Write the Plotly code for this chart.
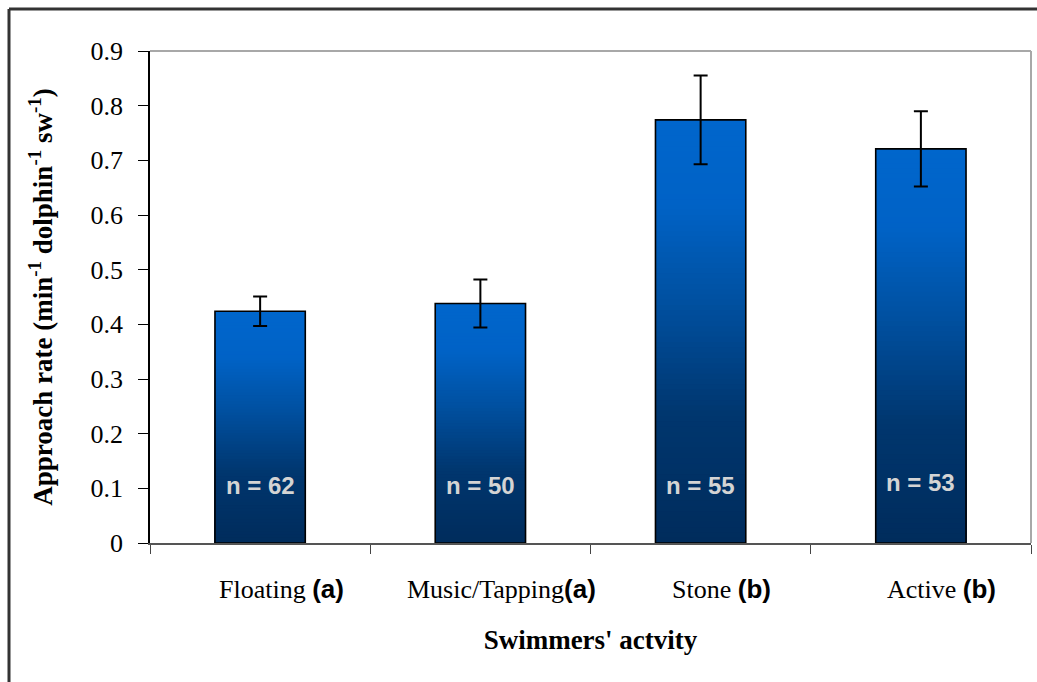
import plotly.graph_objects as go

# Approach rate per swimmer activity (mean ± SE), with sample sizes
categories = ["Floating", "Music/Tapping", "Stone", "Active"]
group_letters = ["(a)", "(a)", "(b)", "(b)"]
label_gaps = [" ", "", " ", " "]
means = [0.424, 0.438, 0.774, 0.721]
errors = [0.027, 0.044, 0.081, 0.069]
n_counts = [62, 50, 55, 53]
n_label_y = [0.105, 0.105, 0.105, 0.11]
y_ticks = [0, 0.1, 0.2, 0.3, 0.4, 0.5, 0.6, 0.7, 0.8, 0.9]

SERIF = "Liberation Serif, Times New Roman, serif"
SANS = "Liberation Sans, Arial, sans-serif"

# vertical gradient for the bar fill (bottom -> top)
grad_stops = [(0.0, (0, 44, 92)), (0.3, (0, 54, 110)), (0.57, (0, 80, 160)),
              (0.8, (0, 98, 198)), (1.0, (0, 102, 204))]


def grad_color(t):
    for (t0, c0), (t1, c1) in zip(grad_stops[:-1], grad_stops[1:]):
        if t <= t1:
            f = (t - t0) / (t1 - t0)
            c = [round(a + (b - a) * f) for a, b in zip(c0, c1)]
            return "rgb(%d,%d,%d)" % tuple(c)
    return "rgb(%d,%d,%d)" % grad_stops[-1][1]


# Gradient: each bar is layered from tallest to shortest band, all from zero
N = 80
gx, gy, gc = [], [], []
for k in range(N):
    frac = (N - k) / N
    for c, m in zip(categories, means):
        gx.append(c)
        gy.append(m * frac)
        gc.append(grad_color(frac - 0.5 / N))

fig = go.Figure()
fig.add_trace(go.Bar(
    x=gx, y=gy, width=0.41,
    marker=dict(color=gc, line=dict(width=0)),
    hoverinfo="skip", showlegend=False,
))
fig.add_trace(go.Bar(
    x=categories, y=means, width=0.41,
    marker=dict(color="rgba(0,0,0,0)", line=dict(color="black", width=1.6)),
    error_y=dict(type="data", array=errors, visible=True,
                 color="black", thickness=2, width=7),
    showlegend=False,
))

for c, n, yy in zip(categories, n_counts, n_label_y):
    fig.add_annotation(
        x=c, y=yy, text=f"n = {n}", showarrow=False,
        font=dict(family=SANS, size=24, color="#D4D4D4", weight="bold"),
        yanchor="middle",
    )

# category labels with significance-group letters, set slightly right of centre
for c, g, l in zip(categories, label_gaps, group_letters):
    fig.add_annotation(
        x=c, y=0, yref="y", yanchor="middle", yshift=-46, xshift=21,
        text=f"{c}{g}<span style=\"font-family:Liberation Sans, Arial;font-weight:bold\">{l}</span>",
        showarrow=False,
        font=dict(family=SERIF, size=26, color="black"),
    )

# plot-area frame (top / right) and outer border
fig.add_shape(type="line", xref="paper", yref="paper", x0=0, x1=1, y0=1, y1=1,
              line=dict(color="#A8A8A8", width=2))
fig.add_shape(type="line", xref="paper", yref="paper", x0=1, x1=1, y0=0, y1=1,
              line=dict(color="#A8A8A8", width=2))
W, H, L, R, T, B = 1037, 682, 150, 6, 51, 139
pw, ph = W - L - R, H - T - B
fig.add_shape(type="line", xref="paper", yref="paper",
              x0=(9 - L) / pw, x1=(9 - L) / pw, y0=1 + (T - 9) / ph, y1=-0.5,
              line=dict(color="#333333", width=3))
fig.add_shape(type="line", xref="paper", yref="paper",
              x0=(9 - L) / pw, x1=1.2, y0=1 + (T - 9) / ph, y1=1 + (T - 9) / ph,
              line=dict(color="#333333", width=3))

fig.update_layout(
    width=W, height=H,
    margin=dict(l=L, r=R, t=T, b=B, autoexpand=False),
    paper_bgcolor="white", plot_bgcolor="white",
    barmode="overlay",
    font=dict(family=SERIF, color="black"),
    xaxis=dict(
        type="category", tickson="boundaries",
        showticklabels=False,
        ticks="outside", ticklen=9, tickcolor="#444", tickwidth=1,
        showline=True, linecolor="#555", linewidth=1.5,
        showgrid=False, zeroline=False,
        title=dict(text="<b>Swimmers' actvity</b>",
                   font=dict(family=SERIF, size=27, color="black"), standoff=86),
    ),
    yaxis=dict(
        range=[0, 0.9], tickvals=y_ticks,
        ticktext=[("%g" % v) for v in y_ticks],
        ticks="outside", ticklen=10, tickcolor="black", tickwidth=1,
        ticklabelstandoff=10,
        showline=True, linecolor="black", linewidth=1.5,
        showgrid=False, zeroline=False,
        tickfont=dict(family=SERIF, size=26, color="black"),
        title=dict(
            text="<b>Approach rate (min<sup>-1</sup> dolphin<sup>-1</sup> sw<sup>-1</sup>)</b>",
            font=dict(family=SERIF, size=27, color="black"), standoff=30),
    ),
)

fig.write_html("out.html")
